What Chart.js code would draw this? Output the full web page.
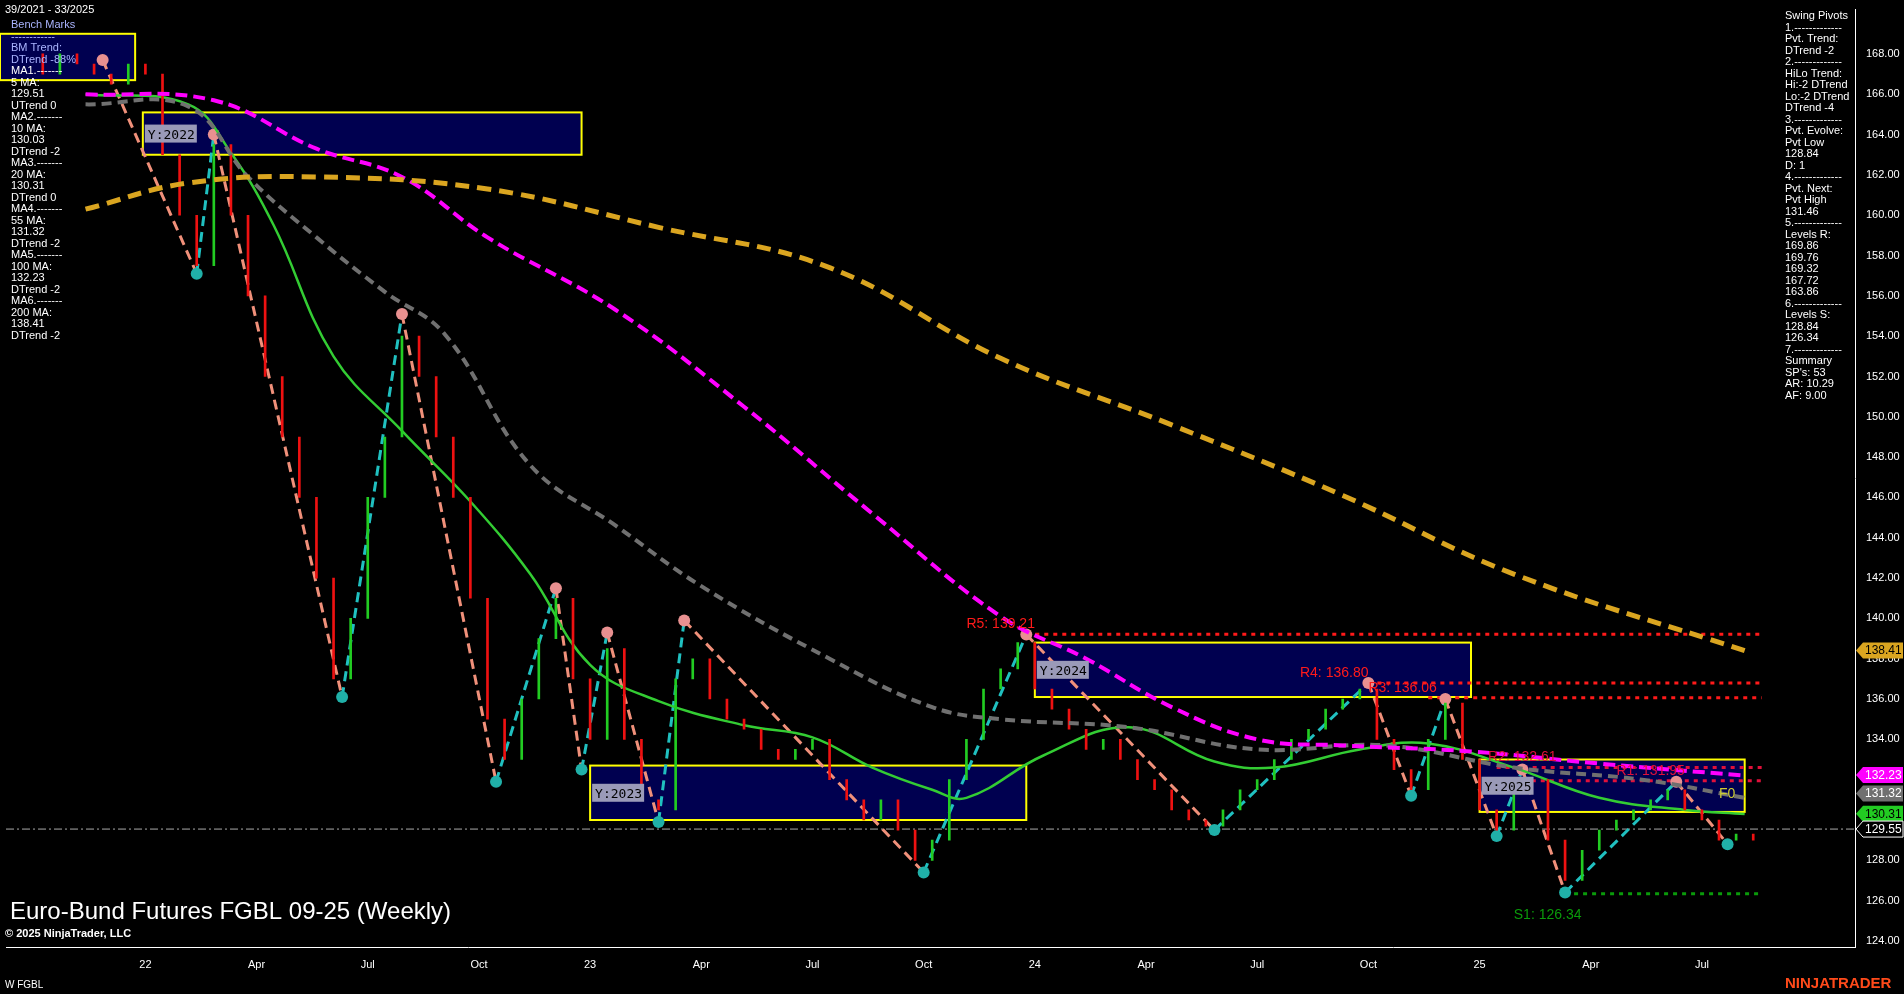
<!DOCTYPE html>
<html><head><meta charset="utf-8">
<script src="https://cdn.jsdelivr.net/npm/chart.js@4.4.1/dist/chart.umd.min.js"></script>
<style>html,body{margin:0;background:#000;overflow:hidden}</style>
</head><body>
<canvas id="c" width="1904" height="994"></canvas>
<script>
// weeks counted from first week of 2022
const closeWeeks = [];
for (let w = -12; w <= 188; w += 2) closeWeeks.push(w);
const closes = [167,168,167.5,167,166.5,167.5,167,163,160,157.5,163.5,160,156,152,149,146,142,137,140,146,149,154,152,149,146,141,135,133,136,139,141,137,134,138.5,134,131,130.5,137,138,136,135,134.5,133.5,133,133.5,134,132,131,130,131,129.5,128,129,132,134,136.5,137.5,138.8,136.5,135.5,134.5,133.5,134,133,132,131.5,130.5,130,129.7,130.5,131.5,132,133,134,134.5,135.5,136,136.5,134,132.5,131.5,134,135.8,133,130.5,129.5,131.5,132,129,127,128.5,129.5,130,130.5,131,131.5,130.5,130,129,129.3,129];

const ma20 = [[-7,166],[5,165.5],[10,163.1],[15,159.5],[22,153],[30,149.3],[38,145.8],[45,142.2],[52,137.7],[60,135.9],[70,134.7],[78,134.1],[85,132.6],[92,131.5],[96,131.1],[105,133.2],[115,134.6],[125,132.9],[132,132.6],[142,133.5],[150,133.8],[160,132.6],[170,131.1],[180,130.5],[187,130.3]];
const ma55 = [[-7,165.5],[5,165.4],[12,161.9],[20,158.9],[28,156.2],[35,154.1],[45,147.6],[55,144.6],[65,141.6],[80,138],[92,135.6],[100,135],[115,134.6],[130,133.5],[145,133.7],[160,132.6],[175,132],[187,131.1]];
const ma100 = [[-7,166],[8,165.7],[20,163.3],[30,161.9],[40,158.9],[55,155.3],[70,150.5],[85,145.2],[100,140.1],[110,138],[120,135.6],[130,134],[140,133.7],[155,133.4],[170,132.8],[187,132.2]];
const ma200 = [[-7,160.3],[5,161.6],[20,161.9],[40,161.3],[60,159.4],[80,157.4],[100,152.9],[120,149.6],[140,146.1],[160,142.2],[187,138.4]];
const pivots = [[-5,167.7],[6,157.1],[8,164],[23,136.1],[30,155.1],[41,131.9],[48,141.5],[51,132.5],[54,139.3],[60,129.9],[63,139.9],[91,127.4],[103,139.2],[125,129.5],[143,136.8],[148,131.2],[152,136],[158,129.2],[161,132.5],[166,126.4],[179,131.9],[185,128.8]];
const tickWeeks = [0,13,26,39,52,65,78,91,104,117,130,143,156,169,182];
const tickNames = ['22','Apr','Jul','Oct','23','Apr','Jul','Oct','24','Apr','Jul','Oct','25','Apr','Jul'];
const boxes = [['Y:2022',-0.3,51,165.1,163.0],['Y:2023',52,103,132.7,130.0],['Y:2024',104,155,138.8,136.1],['Y:2025',156,187,133.0,130.4]];
const levels = [[103,189,139.21,'#ff1a1a','R5: 139.21',96],[143,189,136.8,'#ff1a1a','R4: 136.80',135],[150,189,136.06,'#ff1a1a','R3: 136.06',143],[158,189,132.61,'#e0103a','R2: 132.61',157],[160,189,131.95,'#e0103a','R1: 131.95',172],[166,189,126.34,'#0a9a0a','S1: 126.34',160]];
const tags = [[138.41,'#daa520','#000'],[132.23,'#ff00ff','#fff'],[131.32,'#707070','#fff'],[130.31,'#22cc22','#000'],[129.55,'#000','#fff']];

const bars = closes.map((c,i)=>({x:closeWeeks[i], y:[i?closes[i-1]:c+1, c]}));
const pts = a => a.map(p=>({x:p[0],y:p[1]}));

const overlay = {
  id:'overlay',
  beforeDatasetsDraw(ch){
    const {ctx, scales:{x,y}} = ch;
    ctx.save();
    boxes.forEach(b=>{
      const x1=x.getPixelForValue(b[1]), x2=x.getPixelForValue(b[2]);
      const y1=y.getPixelForValue(b[3]), y2=y.getPixelForValue(b[4]);
      ctx.fillStyle='#000050'; ctx.fillRect(x1,y1,x2-x1,y2-y1);
      ctx.strokeStyle='#ffff00'; ctx.lineWidth=2; ctx.strokeRect(x1,y1,x2-x1,y2-y1);
    });
    const by1=y.getPixelForValue(169), by2=y.getPixelForValue(166.7), bx2=x.getPixelForValue(-1.2);
    ctx.fillStyle='#000050'; ctx.fillRect(0,by1,bx2,by2-by1);
    ctx.strokeStyle='#ffff00'; ctx.strokeRect(0,by1,bx2,by2-by1);
    ctx.setLineDash([8,3,2,3]); ctx.strokeStyle='#aaa'; ctx.lineWidth=1;
    const yb=y.getPixelForValue(129.55);
    ctx.beginPath(); ctx.moveTo(x.left,yb); ctx.lineTo(x.right,yb); ctx.stroke();
    ctx.setLineDash([4,5]); ctx.lineWidth=3;
    levels.forEach(l=>{
      const yy=y.getPixelForValue(l[2]);
      ctx.strokeStyle=l[3];
      ctx.beginPath(); ctx.moveTo(x.getPixelForValue(l[0]),yy); ctx.lineTo(x.getPixelForValue(l[1]),yy); ctx.stroke();
    });
    ctx.restore();
  },
  afterDatasetsDraw(ch){
    const {ctx, scales:{x,y}} = ch;
    ctx.save();
    boxes.forEach(b=>{
      const x1=x.getPixelForValue(b[1]), y2=y.getPixelForValue(b[4]), y1=y.getPixelForValue(b[3]);
      const ym=(y1+y2)/2;
      ctx.fillStyle='#9a9ab8'; ctx.fillRect(x1+2,ym-9,52,18);
      ctx.fillStyle='#000'; ctx.font='13px "DejaVu Sans Mono"'; ctx.fillText(b[0],x1+5,ym+5);
    });
    ctx.font='14px Arial';
    levels.forEach(l=>{
      ctx.fillStyle=l[3]; ctx.fillText(l[4], x.getPixelForValue(l[5]), y.getPixelForValue(l[2]) + (l[2]<127?25:-6));
    });
    ctx.fillStyle='#cccc33'; ctx.fillText('F0', x.getPixelForValue(184), y.getPixelForValue(131.1));
    ctx.font='12px Arial';
    tags.forEach(t=>{
      const yy=y.getPixelForValue(t[0]), xl=x.right+1;
      ctx.fillStyle=t[1]; ctx.strokeStyle='#fff'; ctx.lineWidth=1;
      ctx.beginPath(); ctx.moveTo(xl,yy); ctx.lineTo(xl+7,yy-8); ctx.lineTo(1903,yy-8); ctx.lineTo(1903,yy+8); ctx.lineTo(xl+7,yy+8); ctx.closePath(); ctx.fill();
      if(t[1]==='#000') ctx.stroke();
      ctx.fillStyle=t[2]; ctx.fillText(t[0].toFixed(2), xl+9, yy+4);
    });
    ctx.fillStyle='#fff'; ctx.font='11px Arial';
    ctx.fillText('39/2021 - 33/2025',5,13);
    const left=['Bench Marks','------------','BM Trend:','DTrend -88%','MA1.-------','5 MA:','129.51','UTrend 0','MA2.-------','10 MA:','130.03','DTrend -2','MA3.-------','20 MA:','130.31','DTrend 0','MA4.-------','55 MA:','131.32','DTrend -2','MA5.-------','100 MA:','132.23','DTrend -2','MA6.-------','200 MA:','138.41','DTrend -2'];
    left.forEach((s,i)=>{ctx.fillStyle=i<4?'#aab4ff':'#fff'; ctx.fillText(s,11,28+i*11.5);});
    const right=['Swing Pivots','1.-------------','Pvt. Trend:','DTrend -2','2.-------------','HiLo Trend:','Hi:-2 DTrend','Lo:-2 DTrend','DTrend -4','3.-------------','Pvt. Evolve:','Pvt Low','128.84','D: 1','4.-------------','Pvt. Next:','Pvt High','131.46','5.-------------','Levels R:','169.86','169.76','169.32','167.72','163.86','6.-------------','Levels S:','128.84','126.34','7.-------------','Summary',"SP's: 53",'AR: 10.29','AF: 9.00'];
    ctx.fillStyle='#fff';
    right.forEach((s,i)=>ctx.fillText(s,1785,19+i*11.5));
    ctx.font='24px Arial'; ctx.fillText('Euro-Bund Futures FGBL 09-25 (Weekly)',10,919);
    ctx.font='bold 11px Arial'; ctx.fillText('© 2025 NinjaTrader, LLC',5,937);
    ctx.font='10px Arial'; ctx.fillText('W FGBL',5,988);
    ctx.fillStyle='#ff4a1a'; ctx.font='bold 15px Arial'; ctx.fillText('NINJATRADER',1785,988);
    ctx.restore();
  }
};

const pivotColor = c => c.p1.parsed.y > c.p0.parsed.y ? '#20c0c0' : '#f0907a';

new Chart(document.getElementById('c'), {
  data: {
    datasets: [
      {type:'line', data:pts(ma200), borderColor:'#daa520', borderWidth:5, borderDash:[14,8], tension:0.4, pointRadius:0},
      {type:'line', data:pts(ma100), borderColor:'#ff00ff', borderWidth:4, borderDash:[12,6], tension:0.4, pointRadius:0},
      {type:'line', data:pts(ma55), borderColor:'#707070', borderWidth:4, borderDash:[10,6], tension:0.4, pointRadius:0},
      {type:'bar', data:bars, backgroundColor:bars.map(b=>b.y[1]>=b.y[0]?'#22cc22':'#ee1111'), barThickness:2},
      {type:'line', data:pts(ma20), borderColor:'#33cc33', borderWidth:2.5, tension:0.4, pointRadius:0},
      {type:'line', data:pts(pivots), borderWidth:3, borderDash:[10,6], segment:{borderColor:pivotColor},
        pointRadius:6, pointBorderWidth:0,
        pointBackgroundColor:pivots.map((p,i)=>{const n=pivots[i+1]||pivots[i-1]; return (i<pivots.length-1? n[1]<p[1] : pivots[i-1][1]<p[1])?'#e89090':'#20b0a8';})}
    ]
  },
  options: {
    responsive:false, animation:false,
    layout:{padding:0},
    plugins:{legend:{display:false}, tooltip:{enabled:false}},
    scales:{
      x:{type:'linear', offset:false, min:-16.3, max:199.9, grid:{display:false},
        border:{color:'#fff'},
        afterBuildTicks:s=>{s.ticks=tickWeeks.map(v=>({value:v}));},
        afterFit:s=>{s.height=47;},
        ticks:{color:'#fff', font:{size:11, family:'Arial'}, maxRotation:0, autoSkip:false, callback:(v)=>tickNames[tickWeeks.indexOf(v)]}},
      y:{position:'right', min:123.7, max:170.2, grid:{display:false},
        border:{color:'#fff'},
        afterBuildTicks:s=>{const t=[];for(let v=124;v<=168;v+=2)t.push({value:v});s.ticks=t;},
        afterFit:s=>{s.width=49;},
        ticks:{color:'#fff', font:{size:11, family:'Arial'}, callback:v=>v.toFixed(2)}}
    }
  },
  plugins:[overlay]
});
</script>
</body></html>
